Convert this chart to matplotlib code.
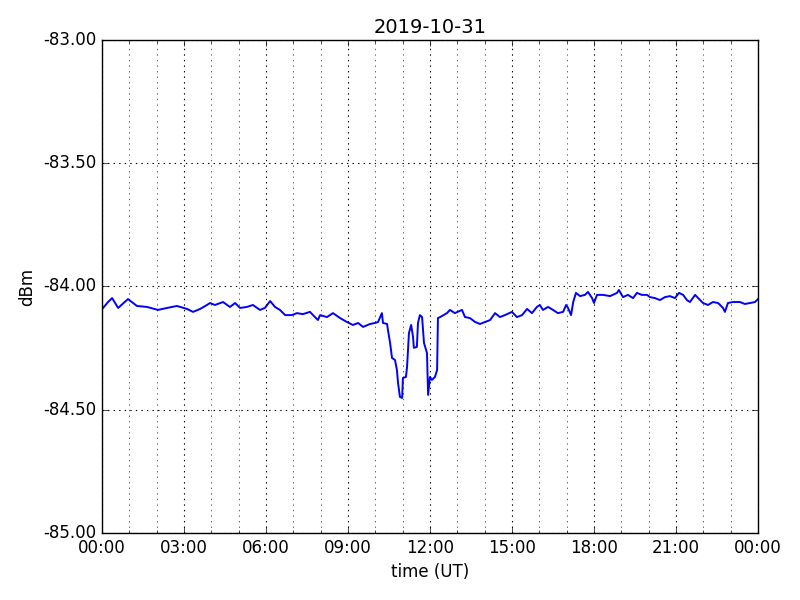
import numpy as np
import pandas as pd
import matplotlib
matplotlib.use("Agg")
import matplotlib.pyplot as plt
import matplotlib.dates as mdates
from matplotlib.ticker import FormatStrFormatter

plt.style.use("classic")

day = "2019-10-31"

# hours after 00:00 UT
hours = [0.04, 0.22, 0.37, 0.59, 0.95, 1.28, 1.65, 2.05, 2.38, 2.74, 3.11, 3.33, 3.59, 3.84,
         3.95, 4.13, 4.43, 4.68, 4.87, 5.05, 5.30, 5.52, 5.78, 5.96, 6.15, 6.33, 6.51, 6.70,
         6.95, 7.13, 7.35, 7.61, 7.79, 7.90, 7.98, 8.23, 8.45, 8.71, 8.96, 9.18, 9.37, 9.55,
         9.81, 9.99, 10.10, 10.24, 10.28, 10.43, 10.46, 10.54, 10.61, 10.72, 10.79, 10.83,
         10.90, 10.98, 11.01, 11.12, 11.16, 11.23, 11.31, 11.38, 11.41, 11.52, 11.56, 11.63,
         11.71, 11.78, 11.89, 11.93, 12.00, 12.07, 12.18, 12.26, 12.29, 12.37, 12.62, 12.73,
         12.91, 13.17, 13.28, 13.46, 13.65, 13.83, 14.01, 14.20, 14.38, 14.56, 14.74, 15.00,
         15.18, 15.37, 15.55, 15.73, 15.91, 16.02, 16.13, 16.32, 16.50, 16.68, 16.87, 16.98,
         17.05, 17.16, 17.24, 17.34, 17.49, 17.67, 17.78, 17.93, 18.00, 18.11, 18.33, 18.59,
         18.84, 18.91, 19.06, 19.24, 19.43, 19.57, 19.75, 19.94, 20.05, 20.23, 20.41, 20.60,
         20.78, 20.96, 21.11, 21.26, 21.40, 21.51, 21.70, 21.81, 21.99, 22.17, 22.35, 22.54,
         22.72, 22.79, 22.90, 23.08, 23.34, 23.52, 23.71, 23.89, 24.00]

# received power (dBm)
power = [-84.087, -84.063, -84.047, -84.087, -84.051, -84.079, -84.083, -84.095, -84.087,
         -84.079, -84.091, -84.103, -84.091, -84.075,
         -84.067, -84.075, -84.063, -84.083, -84.067, -84.087, -84.083, -84.075, -84.095,
         -84.087, -84.059, -84.083, -84.095, -84.116,
         -84.116, -84.108, -84.112, -84.103, -84.124, -84.136, -84.116, -84.124, -84.108,
         -84.128, -84.144, -84.156, -84.148, -84.164,
         -84.152, -84.148, -84.144, -84.108, -84.148, -84.152, -84.176, -84.229, -84.290,
         -84.298, -84.339, -84.391,
         -84.448, -84.452, -84.371, -84.367, -84.327, -84.189, -84.156, -84.205, -84.249,
         -84.245, -84.148, -84.116,
         -84.124, -84.229, -84.270, -84.440, -84.367, -84.379, -84.367, -84.339, -84.128,
         -84.124, -84.108, -84.095,
         -84.108, -84.095, -84.124, -84.128, -84.144, -84.152, -84.144, -84.136, -84.108,
         -84.124, -84.116, -84.103,
         -84.124, -84.116, -84.091, -84.108, -84.083, -84.075, -84.095, -84.083, -84.095,
         -84.108, -84.103, -84.075,
         -84.087, -84.116, -84.063, -84.026, -84.039, -84.034, -84.022, -84.047, -84.067,
         -84.034, -84.034, -84.039,
         -84.026, -84.014, -84.043, -84.034, -84.047, -84.026, -84.034, -84.034, -84.043,
         -84.047, -84.055, -84.043,
         -84.039, -84.047, -84.026, -84.034, -84.055, -84.063, -84.034, -84.047, -84.067,
         -84.075, -84.063, -84.067,
         -84.087, -84.103, -84.067, -84.063, -84.063, -84.071, -84.067, -84.063, -84.051]

t0 = pd.Timestamp(day)
times = t0 + pd.to_timedelta(hours, unit="h")

fig = plt.figure(figsize=(8, 6))
ax = fig.add_subplot(111)
fig.subplots_adjust(left=0.1275, right=0.9475, top=0.9333, bottom=0.1117)

ax.plot(times, power, color="b", linewidth=1.4)

ax.set_xlim(t0, t0 + pd.Timedelta(hours=24))
ax.set_ylim(-85.0, -83.0)
ax.set_yticks(np.arange(-85.0, -82.99, 0.5))
ax.yaxis.set_major_formatter(FormatStrFormatter("%.2f"))

ax.xaxis.set_major_locator(mdates.HourLocator(byhour=range(0, 24, 3)))
ax.xaxis.set_minor_locator(mdates.HourLocator())
ax.xaxis.set_major_formatter(mdates.DateFormatter("%H:%M"))

ax.grid(which="major", linestyle=":", color="k", linewidth=0.8)
ax.xaxis.grid(which="minor", linestyle=":", color="k", linewidth=0.6, alpha=0.7)

ax.set_title(day, fontsize=14)
ax.set_xlabel("time (UT)")
ax.set_ylabel("dBm")

fig.savefig("out.png", dpi=100)
